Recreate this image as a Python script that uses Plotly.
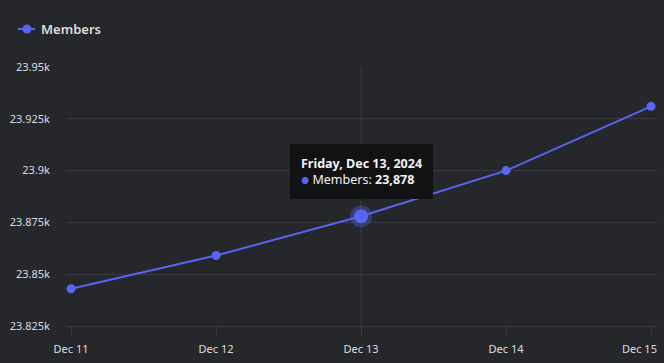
import plotly.graph_objects as go

dates = ["2024-12-11", "2024-12-12", "2024-12-13", "2024-12-14", "2024-12-15"]
tick_labels = ["Dec 11", "Dec 12", "Dec 13", "Dec 14", "Dec 15"]
members = [23843, 23859, 23878, 23900, 23931]
y_ticks = [23825, 23850, 23875, 23900, 23925, 23950]
y_tick_labels = ["23.825k", "23.85k", "23.875k", "23.9k", "23.925k", "23.95k"]
series_name = "Members"
hover_index = 2
hover_title = "Friday, Dec 13, 2024"

BG = "#26272b"
GRID = "#3a3b40"
TXT = "#dcdde0"
BLUE = "#5865f2"
FONT = "Noto Sans, Inter, sans-serif"

W, H = 664, 363
ML, MR, MT, MB = 66, 7, 67, 37
PW, PH = W - ML - MR, H - MT - MB


def px_x(px):
    return (px - ML) / PW


def px_y(py):
    return (H - MB - py) / PH


fig = go.Figure()
fig.add_trace(go.Scatter(
    x=dates, y=members, name=series_name, mode="lines+markers",
    line=dict(color=BLUE, width=2), marker=dict(color=BLUE, size=9),
    hoverinfo="skip", showlegend=False,
))
fig.add_trace(go.Scatter(
    x=[dates[hover_index]], y=[members[hover_index]], mode="markers",
    marker=dict(color="rgba(88,101,242,0.35)", size=22), showlegend=False, hoverinfo="skip",
))
fig.add_trace(go.Scatter(
    x=[dates[hover_index]], y=[members[hover_index]], mode="markers",
    marker=dict(color=BLUE, size=14), showlegend=False, hoverinfo="skip",
))

fig.add_shape(type="line", xref="x", yref="paper", x0=dates[hover_index], x1=dates[hover_index],
              y0=0, y1=1, line=dict(color=GRID, width=1), layer="below")

# custom legend (line + marker + label)
ly = px_y(29)
fig.add_shape(type="line", xref="paper", yref="paper", x0=px_x(18), x1=px_x(35), y0=ly, y1=ly,
              line=dict(color=BLUE, width=2))
fig.add_shape(type="circle", xref="paper", yref="paper", x0=px_x(22.5), x1=px_x(31.5),
              y0=px_y(33.5), y1=px_y(24.5), line=dict(color=BLUE, width=0), fillcolor=BLUE)
fig.add_annotation(xref="paper", yref="paper", x=px_x(39), y=ly, text=series_name,
                   showarrow=False, xanchor="left", yanchor="middle",
                   font=dict(family=FONT, size=13, color=TXT, weight=600))

tip = (f"<b>{hover_title}</b><br>"
       f"<span style='color:{BLUE};font-size:9px'>●</span> {series_name}: <b>{members[hover_index]:,}</b>")
fig.add_annotation(x=dates[hover_index], y=members[hover_index], xref="x", yref="y",
                   text=tip, showarrow=False, yanchor="bottom", yshift=17, align="left",
                   bgcolor="#111214", bordercolor="#111214", borderpad=10,
                   font=dict(family=FONT, size=12.5, color="#f2f3f5"))
fig.add_annotation(x=dates[hover_index], y=members[hover_index], xref="x", yref="y",
                   text="▼", showarrow=False, yanchor="bottom", yshift=10,
                   font=dict(size=9, color="#111214"))

# last tick label is drawn separately, pushed left so it stays inside the chart
shown_ticks = tick_labels[:-1] + [""]
fig.add_annotation(xref="x", yref="paper", x=dates[-1], y=px_y(348), text=tick_labels[-1],
                   showarrow=False, xanchor="right", yanchor="middle", xshift=8,
                   font=dict(family=FONT, size=11, color=TXT))

fig.update_layout(
    width=W, height=H,
    paper_bgcolor=BG, plot_bgcolor=BG,
    margin=dict(l=ML, r=MR, t=MT, b=MB, autoexpand=False),
    font=dict(family=FONT, color=TXT, size=12),
    showlegend=False,
    hovermode=False,
    xaxis=dict(
        type="date",
        range=["2024-12-10 23:10", "2024-12-15 00:59"],
        tickvals=dates, ticktext=shown_ticks,
        showgrid=False, zeroline=False, showline=True, linecolor=GRID,
        ticks="outside", ticklen=8, tickcolor=GRID, ticklabelstandoff=5,
        tickfont=dict(size=11, color=TXT),
    ),
    yaxis=dict(
        range=[y_ticks[0], y_ticks[-1]],
        tickvals=y_ticks, ticktext=y_tick_labels,
        showgrid=True, gridcolor=GRID, gridwidth=1, zeroline=False, showline=False,
        ticks="", ticklabelstandoff=15,
        tickfont=dict(size=11, color=TXT),
    ),
)

fig.write_html("out.html", config={"displayModeBar": False},
               post_script="document.body.style.margin='0';document.body.style.overflow='hidden';")
